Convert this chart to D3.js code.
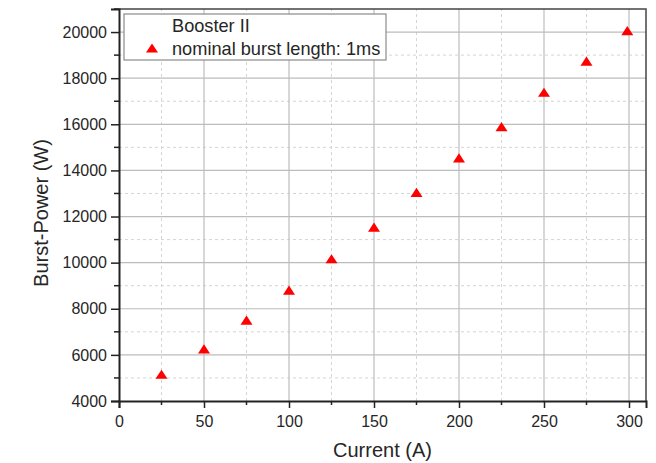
<!DOCTYPE html>
<html>
<head>
<meta charset="utf-8">
<script src="https://cdn.jsdelivr.net/npm/d3@7"></script>
<style>
  body { margin: 0; background: #fff; }
  svg text { font-family: "Liberation Sans", Arial, sans-serif; fill: #262626; }
</style>
</head>
<body>
<div id="chart"></div>
<script>
// data
const current = [25, 50, 75, 100, 125, 150, 175, 200, 225, 250, 275, 299]
const burstPower = [5160, 6260, 7510, 8810, 10170, 11540, 13050, 14540, 15900, 17390, 18740, 20060]
const xTicks = [0, 50, 100, 150, 200, 250, 300]
const xMinor = [25, 75, 125, 175, 225, 275]
const yTicks = [4000, 6000, 8000, 10000, 12000, 14000, 16000, 18000, 20000]
const yMinor = [5000, 7000, 9000, 11000, 13000, 15000, 17000, 19000, 21000]
const legendLines = ["Booster II", "nominal burst length: 1ms"]

const width = 656, height = 463
const margin = {top: 9, right: 10, bottom: 62, left: 119}

const svg = d3.select("#chart").append("svg")
    .attr("width", width)
    .attr("height", height)

const x = d3.scaleLinear().domain([0, 310]).range([margin.left, width - margin.right])
const y = d3.scaleLinear().domain([4000, 21000]).range([height - margin.bottom, margin.top])

//grid
const grid = svg.append("g")
grid.selectAll(".gx-minor").data(xMinor).enter().append("line")
    .attr("x1", d => x(d)).attr("x2", d => x(d))
    .attr("y1", y(4000)).attr("y2", y(21000))
    .attr("stroke", "#d4d4d4").attr("stroke-dasharray", "3,3")
grid.selectAll(".gy-minor").data(yMinor.filter(d => d < 21000)).enter().append("line")
    .attr("x1", x(0)).attr("x2", x(310))
    .attr("y1", d => y(d)).attr("y2", d => y(d))
    .attr("stroke", "#d4d4d4").attr("stroke-dasharray", "3,3")
grid.selectAll(".gx").data(xTicks.slice(1)).enter().append("line")
    .attr("x1", d => x(d)).attr("x2", d => x(d))
    .attr("y1", y(4000)).attr("y2", y(21000))
    .attr("stroke", "#bcbcbc").attr("stroke-width", 1.2)
grid.selectAll(".gy").data(yTicks.slice(1)).enter().append("line")
    .attr("x1", x(0)).attr("x2", x(310))
    .attr("y1", d => y(d)).attr("y2", d => y(d))
    .attr("stroke", "#bcbcbc").attr("stroke-width", 1.2)

// frame (top / right)
svg.append("path")
    .attr("d", `M${x(0)},${y(21000)}H${x(310)}V${y(4000)}`)
    .attr("fill", "none").attr("stroke", "#444").attr("stroke-width", 1.5)

// axes
const xAxis = d3.axisBottom(x).tickValues(xTicks).tickSize(7).tickPadding(8).tickFormat(d3.format("d"))
const yAxis = d3.axisLeft(y).tickValues(yTicks).tickSize(8).tickPadding(4).tickFormat(d3.format("d"))

const gx = svg.append("g").attr("transform", `translate(0,${y(4000)})`).call(xAxis)
const gy = svg.append("g").attr("transform", `translate(${x(0)},0)`).call(yAxis)

gx.selectAll(".minor").data(xMinor).enter().append("line")
    .attr("x1", d => x(d)).attr("x2", d => x(d)).attr("y1", 0).attr("y2", 4)
    .attr("stroke", "#222").attr("stroke-width", 1.5)
gy.selectAll(".minor").data(yMinor).enter().append("line")
    .attr("y1", d => y(d)).attr("y2", d => y(d)).attr("x1", 0).attr("x2", -5)
    .attr("stroke", "#222").attr("stroke-width", 1.5)

for (const g of [gx, gy]) {
    g.select(".domain").attr("stroke", "#222").attr("stroke-width", 2)
    g.selectAll(".tick line").attr("stroke", "#222").attr("stroke-width", 1.5)
    g.selectAll(".tick text").attr("font-size", 16).attr("fill", "#262626")
        .style("font-family", '"Liberation Sans", Arial, sans-serif')
}

// axis titles
svg.append("text")
    .attr("x", (x(0) + x(310)) / 2).attr("y", 457)
    .attr("text-anchor", "middle").attr("font-size", 20)
    .text("Current (A)")
svg.append("text")
    .attr("transform", `translate(48,213) rotate(-90)`)
    .attr("text-anchor", "middle").attr("font-size", 20)
    .text("Burst-Power (W)")

// points: up-triangle centred on its bounding box
const tri = "M0,-4.6L6,4.6L-6,4.6Z"
svg.append("g").selectAll("path").data(current).enter().append("path")
    .attr("d", tri)
    .attr("transform", (d, i) => `translate(${x(d)},${y(burstPower[i])})`)
    .attr("fill", "#ff0000")

// legend
const legend = svg.append("g").attr("transform", "translate(124,14)")
legend.append("rect")
    .attr("width", 262).attr("height", 46)
    .attr("fill", "#fff").attr("stroke", "#8a8a8a").attr("stroke-width", 1.2)
legend.selectAll("text").data(legendLines).enter().append("text")
    .attr("x", 48).attr("y", (d, i) => 18 + i * 23)
    .attr("font-size", 18.2)
    .text(d => d)
legend.append("path")
    .attr("d", tri)
    .attr("transform", "translate(28,34)")
    .attr("fill", "#ff0000")
</script>
</body>
</html>
